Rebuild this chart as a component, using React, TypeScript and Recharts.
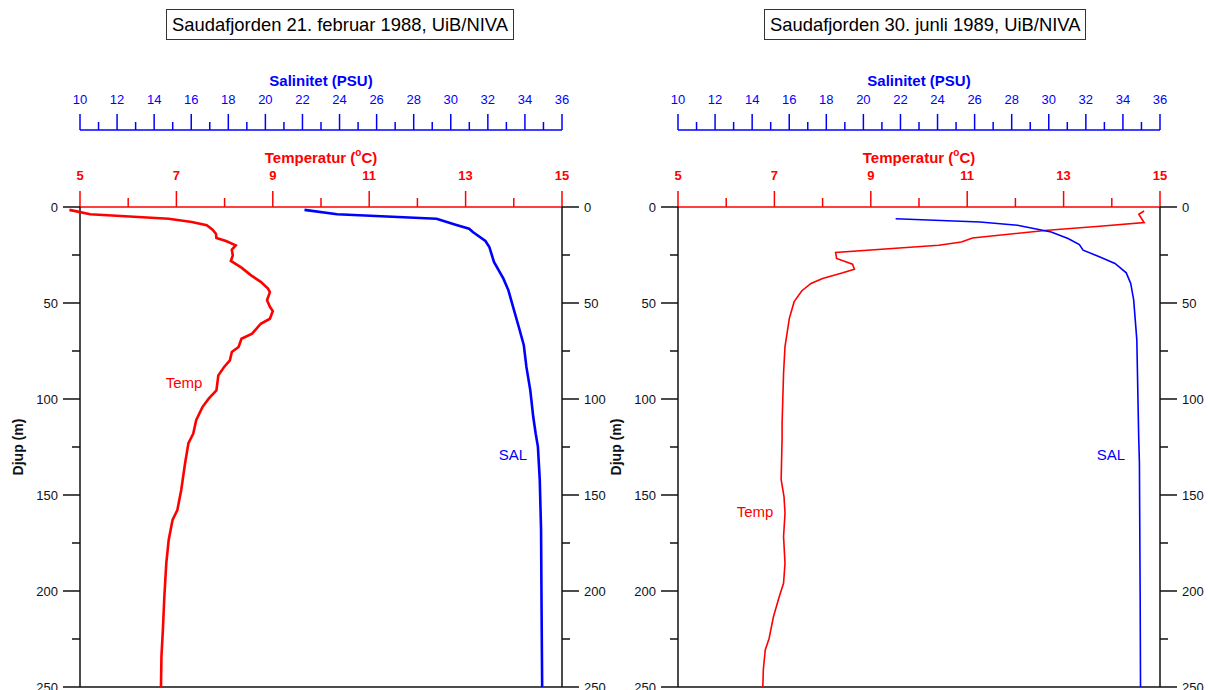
import {
  ReferenceDot,
  ReferenceLine,
  Scatter,
  ScatterChart,
  XAxis,
  YAxis,
} from "recharts";

const FONT = '"Liberation Sans", Arial, Helvetica, sans-serif';
const RED = "#ff0000";
const BLUE = "#0000ff";
const INK = "#111111";

// axis ticks
const TEMP_TICKS = [5, 6, 7, 8, 9, 10, 11, 12, 13, 14, 15];
const SAL_TICKS = [
  10, 11, 12, 13, 14, 15, 16, 17, 18, 19, 20, 21, 22, 23, 24, 25, 26, 27, 28, 29, 30, 31, 32,
  33, 34, 35, 36,
];
const DEPTH_TICKS = [0, 25, 50, 75, 100, 125, 150, 175, 200, 225, 250];

// 21. februar 1988
const FEB_TEMP_DEPTH = [
  1.5, 3.8, 6.1, 7.8, 9.5, 11.8, 13.9, 16.1, 17.7, 20, 22.2, 25.2, 28.1, 31.6, 35.6, 39, 42.5,
  44.3, 48.6, 52, 54.2, 58.2, 60.8, 66, 68.6, 72.9, 75.5, 79.9, 83.3, 87.7, 95.5, 99.8, 104.2,
  111, 118, 123, 133.5, 147.4, 157.8, 163, 173.4, 185.6, 203, 220, 234, 250,
];
const FEB_TEMP = [
  4.78, 5.21, 6.84, 7.32, 7.63, 7.75, 7.82, 7.83, 8.03, 8.23, 8.15, 8.17, 8.13, 8.35, 8.55, 8.75,
  8.9, 8.94, 8.88, 8.94, 9.0, 8.94, 8.75, 8.57, 8.35, 8.29, 8.15, 8.11, 7.99, 7.87, 7.83, 7.67,
  7.54, 7.41, 7.35, 7.25, 7.18, 7.1, 7.02, 6.92, 6.84, 6.79, 6.75, 6.72, 6.69, 6.68,
];
const FEB_SAL_DEPTH = [
  1.5, 3.8, 6.1, 6.6, 9.2, 11.3, 13, 17.7, 20.8, 28.6, 37.3, 43.4, 52, 62.5, 72, 83.3, 95.5,
  109.4, 118, 124.8, 142, 168, 211.6, 250,
];
const FEB_SAL = [
  22.11, 23.87, 29.23, 29.4, 30.26, 30.99, 31.19, 31.87, 32.08, 32.33, 32.84, 33.11, 33.36, 33.67,
  33.94, 34.08, 34.29, 34.45, 34.58, 34.7, 34.8, 34.87, 34.9, 34.93,
];

// 30. juni 1989
const JUN_TEMP_DEPTH = [
  2.1, 3.8, 8.1, 10, 12.1, 16.1, 18.2, 19.9, 23.7, 26.8, 29.8, 32.4, 34.3, 37.2, 39.8, 43.6, 49.3,
  58, 72.7, 86.5, 112.5, 120, 142, 151, 159.5, 171.7, 185.6, 196, 203, 213.4, 224.7, 230.7, 241.1,
  250,
];
const JUN_TEMP = [
  14.67, 14.56, 14.67, 13.75, 12.67, 11.11, 10.88, 10.41, 8.27, 8.29, 8.62, 8.66, 8.42, 8.0, 7.76,
  7.57, 7.41, 7.31, 7.22, 7.19, 7.16, 7.16, 7.14, 7.2, 7.22, 7.19, 7.22, 7.19, 7.1, 6.98, 6.89,
  6.81, 6.77, 6.76,
];
const JUN_SAL_DEPTH = [6.1, 7.8, 9.5, 13, 16.4, 19.6, 22.5, 26, 29.4, 34.3, 39.8, 48.4, 69.2, 119.4, 133.5, 203, 250];
const JUN_SAL = [
  21.74, 26.29, 28.31, 30.13, 31.04, 31.65, 31.85, 32.76, 33.57, 34.18, 34.42, 34.58, 34.75, 34.85,
  34.89, 34.93, 34.95,
];

const toRows = (depth: number[], vals: number[], key: string) =>
  depth.map((d, i) => ({ d, [key]: vals[i] }));

function NoShape() {
  return null;
}

function TempTick({ x, y, payload }: any) {
  const v = payload.value;
  const major = v % 2 === 1;
  return (
    <g>
      <line x1={x} x2={x} y1={y} y2={y - (major ? 16 : 9)} stroke={RED} strokeWidth={1.5} />
      {major && (
        <text x={x} y={y - 32} textAnchor="middle" dominantBaseline="central" fill={RED}
          fontSize={13} fontWeight="bold" fontFamily={FONT}>
          {v}
        </text>
      )}
    </g>
  );
}

function SalTick({ x, y, payload }: any) {
  const v = payload.value;
  const major = v % 2 === 0;
  return (
    <g>
      <line x1={x} x2={x} y1={y} y2={y - (major ? 16 : 8)} stroke={BLUE} strokeWidth={1.5} />
      {major && (
        <text x={x} y={y - 31} textAnchor="middle" dominantBaseline="central" fill={BLUE}
          fontSize={13} fontFamily={FONT}>
          {v}
        </text>
      )}
    </g>
  );
}

function DepthTick({ x, y, payload, side }: any) {
  const v = payload.value;
  const major = v % 50 === 0;
  const dir = side === "left" ? -1 : 1;
  return (
    <g>
      <line x1={x} x2={x + dir * (major ? 17 : 8)} y1={y} y2={y} stroke={INK} strokeWidth={1.5} />
      {major && (
        <text x={x + dir * 22} y={y} textAnchor={side === "left" ? "end" : "start"}
          dominantBaseline="central" fill={INK} fontSize={13} fontFamily={FONT}>
          {v}
        </text>
      )}
    </g>
  );
}

function AxisTitle({ viewBox, dy, color, children }: any) {
  return (
    <text x={viewBox.x + viewBox.width / 2} y={viewBox.y + dy} textAnchor="middle"
      dominantBaseline="central" fill={color} fontSize={15} fontWeight="bold" fontFamily={FONT}>
      {children}
    </text>
  );
}

function DepthTitle({ viewBox }: any) {
  const cx = viewBox.x - 32;
  const cy = viewBox.y + viewBox.height / 2;
  return (
    <text x={cx} y={cy} transform={`rotate(-90 ${cx} ${cy})`} textAnchor="middle"
      dominantBaseline="central" fill={INK} fontSize={14} fontWeight="bold" fontFamily={FONT}>
      Djup (m)
    </text>
  );
}

interface PanelProps {
  left: number;
  width: number;
  title: string;
  temp: { d: number; t?: number }[];
  sal: { d: number; s?: number }[];
  lw: number;
  tempAt: [number, number];
  salAt: [number, number];
}

// axis ids: the temperature axis sits next to the plot, salinity above it
const T_AXIS = "a-temp";
const S_AXIS = "b-sal";

function Panel({ left, width, title, temp, sal, lw, tempAt, salAt }: PanelProps) {
  return (
    <div style={{ position: "absolute", left, top: 0, width, height: 690 }}>
      <ScatterChart width={width} height={690} margin={{ top: 70, right: width - 562 - 30, bottom: 3, left: 50 }}>
        <XAxis xAxisId={T_AXIS} dataKey="t" type="number" orientation="top" height={77} domain={[5, 15]}
          allowDataOverflow ticks={TEMP_TICKS} interval={0} tickSize={0} tickMargin={0}
          tick={<TempTick />} axisLine={{ stroke: RED, strokeWidth: 1.5 }}
          label={
            <AxisTitle dy={27} color={RED}>
              <tspan>Temperatur (</tspan>
              <tspan dy={-5} fontSize={10}>o</tspan>
              <tspan dy={5}>C)</tspan>
            </AxisTitle>
          }
        />
        <XAxis xAxisId={S_AXIS} dataKey="s" type="number" orientation="top" height={60} domain={[10, 36]}
          allowDataOverflow ticks={SAL_TICKS} interval={0} tickSize={0} tickMargin={0}
          tick={<SalTick />} axisLine={{ stroke: BLUE, strokeWidth: 1.5 }}
          label={<AxisTitle dy={10} color={BLUE}>Salinitet (PSU)</AxisTitle>}
        />
        <YAxis yAxisId="d" dataKey="d" type="number" orientation="left" width={30} reversed
          domain={[0, 250]} allowDataOverflow ticks={DEPTH_TICKS} interval={0} tickSize={0}
          tickMargin={0} tick={<DepthTick side="left" />} axisLine={{ stroke: INK, strokeWidth: 1.5 }}
          label={<DepthTitle />}
        />
        <YAxis yAxisId="r" dataKey="d" type="number" orientation="right" width={30} reversed
          domain={[0, 250]} allowDataOverflow ticks={DEPTH_TICKS} interval={0} tickSize={0}
          tickMargin={0} tick={<DepthTick side="right" />} axisLine={{ stroke: INK, strokeWidth: 1.5 }}
        />
        <ReferenceLine xAxisId={T_AXIS} yAxisId="d" y={250} stroke={INK} strokeWidth={1.5} />
        <Scatter data={temp} xAxisId={T_AXIS} yAxisId="d" fill={RED} shape={NoShape}
          line={{ stroke: RED, strokeWidth: lw }} lineJointType="linear" isAnimationActive={false} />
        <Scatter data={sal} xAxisId={S_AXIS} yAxisId="d" fill={BLUE} shape={NoShape}
          line={{ stroke: BLUE, strokeWidth: lw }} lineJointType="linear" isAnimationActive={false} />
        <ReferenceDot xAxisId={T_AXIS} yAxisId="d" x={tempAt[0]} y={tempAt[1]} r={0}
          label={{ value: "Temp", position: "center", fill: RED, fontSize: 15, fontFamily: FONT }} />
        <ReferenceDot xAxisId={S_AXIS} yAxisId="d" x={salAt[0]} y={salAt[1]} r={0}
          label={{ value: "SAL", position: "center", fill: BLUE, fontSize: 15, fontFamily: FONT }} />
      </ScatterChart>
      <div
        style={{
          position: "absolute", left: 166, top: 9, height: 31, boxSizing: "border-box",
          border: "1px solid #333", padding: "0 5px", fontSize: 18.4, lineHeight: "29px",
          fontFamily: FONT, whiteSpace: "nowrap", background: "#fff", color: "#000",
        }}
      >
        {title}
      </div>
    </div>
  );
}

export default function App() {
  return (
    <div
      style={{
        position: "absolute", left: 0, top: 0, width: 1208, height: 690, overflow: "hidden",
        background: "#fff", fontFamily: FONT,
      }}
    >
      <style>
        {".recharts-scatter,.recharts-scatter *{clip-path:none!important}.recharts-surface{overflow:visible}"}
      </style>
      <Panel
        left={0}
        width={600}
        title="Saudafjorden 21. februar 1988, UiB/NIVA"
        temp={toRows(FEB_TEMP_DEPTH, FEB_TEMP, "t")}
        sal={toRows(FEB_SAL_DEPTH, FEB_SAL, "s")}
        lw={2.6}
        tempAt={[7.16, 91.7]}
        salAt={[33.35, 129]}
      />
      <Panel
        left={598}
        width={610}
        title="Saudafjorden 30. junli 1989, UiB/NIVA"
        temp={toRows(JUN_TEMP_DEPTH, JUN_TEMP, "t")}
        sal={toRows(JUN_SAL_DEPTH, JUN_SAL, "s")}
        lw={1.6}
        tempAt={[6.6, 158.9]}
        salAt={[33.35, 129]}
      />
    </div>
  );
}
